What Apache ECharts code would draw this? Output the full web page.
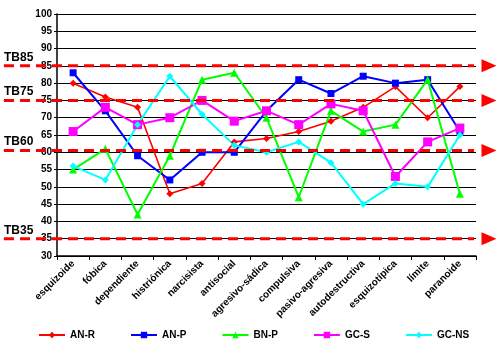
<!DOCTYPE html>
<html>
<head>
<meta charset="utf-8">
<script src="https://cdn.jsdelivr.net/npm/echarts@6/dist/echarts.min.js"></script>
<style>
html, body { margin: 0; padding: 0; background: #fff; }
#chart { width: 499px; height: 352px; }
</style>
</head>
<body>
<div id="chart"></div>
<script>
// categorias (eje x)
var categorias = ['esquizoide', 'fóbica', 'dependiente', 'histriónica', 'narcisista', 'antisocial',
    'agresivo-sádica', 'compulsiva', 'pasivo-agresiva', 'autodestructiva', 'esquizotípica', 'límite', 'paranoide'];
// series
var anR  = [80, 76, 73, 48, 51, 63, 64, 66, 69, 73, 79, 70, 79];
var anP  = [83, 72, 59, 52, 60, 60, 72, 81, 77, 82, 80, 81, 66];
var bnP  = [55, 61, 42, 59, 81, 83, 70, 47, 72, 66, 68, 81, 48];
var gcS  = [66, 73, 68, 70, 75, 69, 72, 68, 74, 72, 53, 63, 67];
var gcNS = [56, 52, 68, 82, 71, 62, 60, 63, 57, 45, 51, 50, 65];
// lineas de corte
var cortes = [85, 75, 60.5, 35];
var cortesNombre = ['TB85', 'TB75', 'TB60', 'TB35'];

var myChart = echarts.init(document.getElementById('chart'));

var fuente = '"Liberation Sans", Arial, sans-serif';

function serie(nombre, datos, color, simbolo, tam, ancho) {
    return {
        name: nombre,
        type: 'line',
        xAxisIndex: 0,
        yAxisIndex: 0,
        data: datos,
        symbol: simbolo,
        symbolSize: tam,
        color: color,
        lineStyle: { color: color, width: ancho },
        itemStyle: { color: color },
        z: 3
    };
}

var series = [
    serie('AN-R', anR, '#ff0000', 'diamond', 7, 1.6),
    serie('AN-P', anP, '#0000ff', 'rect', 7, 2),
    serie('BN-P', bnP, '#00ff00', 'triangle', 8, 2),
    serie('GC-S', gcS, '#ff00ff', 'rect', 9, 2),
    serie('GC-NS', gcNS, '#00ffff', 'diamond', 7, 2)
];

// lineas rojas discontinuas con flecha
for (var i = 0; i < cortes.length; i++) {
    series.push({
        type: 'line',
        xAxisIndex: 1,
        yAxisIndex: 1,
        silent: true,
        z: 4,
        data: [
            { value: [0, cortes[i]], symbol: 'circle', symbolSize: 1,
              label: { show: true, position: 'top', align: 'left', distance: 2,
                       formatter: cortesNombre[i], color: '#000', fontWeight: 'bold',
                       fontSize: 12, fontFamily: fuente } },
            { value: [1, cortes[i]], symbol: 'triangle', symbolSize: [13, 15],
              symbolRotate: -90, symbolOffset: [15, 0], label: { show: false } }
        ],
        showAllSymbol: true,
        lineStyle: { color: '#ff0000', width: 3, type: [10, 6] },
        itemStyle: { color: '#ff0000' }
    });
}

var option = {
    backgroundColor: '#fff',
    animation: false,
    grid: [
        { left: 57, right: 23, top: 14, bottom: 96 },
        { left: 4, right: 25, top: 14, bottom: 96 }
    ],
    legend: {
        data: ['AN-R', 'AN-P', 'BN-P', 'GC-S', 'GC-NS'],
        left: 38,
        bottom: 12,
        padding: 0,
        itemWidth: 26,
        itemHeight: 8,
        itemGap: 35,
        textStyle: { color: '#000', fontWeight: 'bold', fontSize: 10, fontFamily: fuente }
    },
    xAxis: [{
        type: 'category',
        gridIndex: 0,
        data: categorias,
        boundaryGap: true,
        axisLine: { lineStyle: { color: '#000', width: 1.5 } },
        axisTick: { show: true, length: 4, lineStyle: { color: '#000' } },
        axisLabel: {
            interval: 0,
            rotate: 45,
            color: '#000',
            fontSize: 10,
            fontWeight: 'bold',
            fontFamily: fuente,
            margin: 6
        }
    }, {
        type: 'value',
        gridIndex: 1,
        min: 0,
        max: 1,
        show: false
    }],
    yAxis: [{
        type: 'value',
        gridIndex: 0,
        min: 30,
        max: 100,
        interval: 5,
        axisLine: { show: true, lineStyle: { color: '#000', width: 1.5 } },
        axisTick: { show: true, length: 3, lineStyle: { color: '#000' } },
        axisLabel: { color: '#000', fontSize: 10, fontWeight: 'bold', fontFamily: fuente, margin: 5 },
        splitLine: { show: true, lineStyle: { color: '#000', width: 1.2 } }
    }, {
        type: 'value',
        gridIndex: 1,
        min: 30,
        max: 100,
        show: false
    }],
    series: series
};

myChart.setOption(option);
</script>
</body>
</html>
